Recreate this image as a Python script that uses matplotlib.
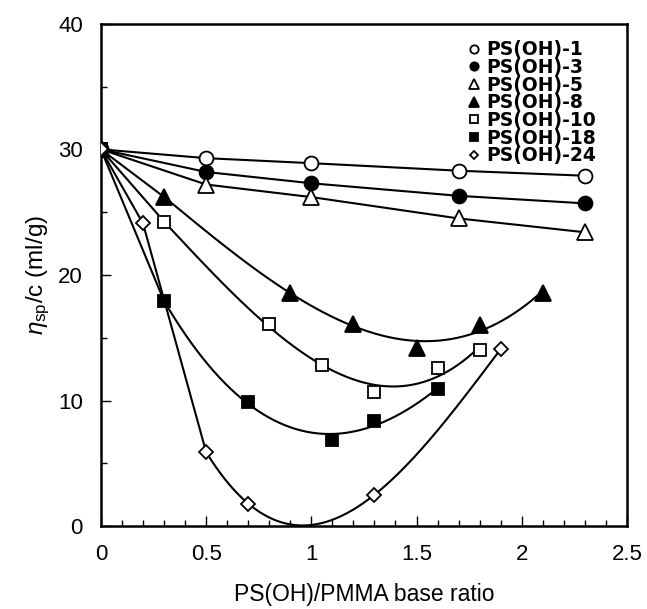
import matplotlib
matplotlib.use("Agg")
import matplotlib.pyplot as plt
import numpy as np

plt.rcParams["font.family"] = ["Liberation Sans", "DejaVu Sans"]
plt.rcParams["mathtext.fontset"] = "custom"
plt.rcParams["mathtext.rm"] = "Liberation Sans"
plt.rcParams["mathtext.it"] = "Liberation Sans:italic"

# intrinsic viscosity data (PS(OH)/PMMA base ratio, eta_sp/c)
x_1 = [0, 0.5, 1.0, 1.7, 2.3]
y_1 = [30, 29.3, 28.9, 28.3, 27.9]
x_3 = [0, 0.5, 1.0, 1.7, 2.3]
y_3 = [30, 28.2, 27.3, 26.3, 25.7]
x_5 = [0, 0.5, 1.0, 1.7, 2.3]
y_5 = [30, 27.2, 26.2, 24.5, 23.4]
x_8 = [0, 0.3, 0.9, 1.2, 1.5, 1.8, 2.1]
y_8 = [30, 26.2, 18.6, 16.1, 14.2, 16.0, 18.6]
x_10 = [0, 0.3, 0.8, 1.05, 1.3, 1.6, 1.8]
y_10 = [30, 24.2, 16.1, 12.8, 10.7, 12.6, 14.0]
x_18 = [0, 0.3, 0.7, 1.1, 1.3, 1.6]
y_18 = [30, 17.9, 9.9, 6.9, 8.4, 10.9]
x_24 = [0, 0.2, 0.5, 0.7, 1.3, 1.9]
y_24 = [30, 24.1, 5.9, 1.8, 2.5, 14.1]

labels = ["PS(OH)-1", "PS(OH)-3", "PS(OH)-5", "PS(OH)-8",
          "PS(OH)-10", "PS(OH)-18", "PS(OH)-24"]


def curve(x, y, k=None):
    """straight segments through the first k points, cubic fit after that"""
    x = np.asarray(x, float); y = np.asarray(y, float)
    if k is None:
        return x, y
    p = np.polyfit(x[k - 1:], y[k - 1:], 3)
    xs = np.linspace(x[k - 1], x[-1], 200)
    ys = np.polyval(p, xs)
    return np.r_[x[:k - 1], xs], np.r_[y[:k - 1], ys]


series = [
    (x_1, y_1, None, dict(marker="o", mfc="white")),
    (x_3, y_3, None, dict(marker="o", mfc="black")),
    (x_5, y_5, None, dict(marker="^", mfc="white", ms=11)),
    (x_8, y_8, 2, dict(marker="^", mfc="black", ms=11)),
    (x_10, y_10, 2, dict(marker="s", mfc="white", ms=8.5)),
    (x_18, y_18, 2, dict(marker="s", mfc="black", ms=8.5)),
    (x_24, y_24, 3, dict(marker="D", mfc="white", ms=7.5)),
]

fig = plt.figure(figsize=(6.47, 6.09), dpi=100)
ax = fig.add_axes([0.156, 0.136, 0.813, 0.825])

for (x, y, k, st), lab in zip(series, labels):
    cx, cy = curve(x, y, k)
    ax.plot(cx, cy, color="black", lw=1.5, zorder=2)
    kw = dict(ms=10, mec="black", mew=1.3, ls="none")
    kw.update(st)
    ax.plot(x, y, label=lab, zorder=3, **kw)

ax.set_xlim(0, 2.5)
ax.set_ylim(0, 40)
ax.set_xticks([0, 0.5, 1, 1.5, 2, 2.5])
ax.set_xticklabels(["0", "0.5", "1", "1.5", "2", "2.5"])
ax.set_yticks([0, 10, 20, 30, 40])
ax.set_xticks(np.arange(0, 2.51, 0.1), minor=True)
ax.set_yticks(np.arange(0, 40.1, 5), minor=True)
ax.tick_params(which="both", direction="in", width=1, labelsize=16)
ax.tick_params(axis="x", which="major", length=7, pad=13)
ax.tick_params(axis="y", which="major", length=7, pad=13)
ax.tick_params(which="minor", length=4)
for s in ax.spines.values():
    s.set_linewidth(1.8)

ax.set_xlabel("PS(OH)/PMMA base ratio", fontsize=16.5, labelpad=13)
ax.set_ylabel(r"$\eta_{\mathrm{sp}}$/c (ml/g)", fontsize=17.5, labelpad=4)

leg = ax.legend(loc="upper right", bbox_to_anchor=(0.955, 0.982), frameon=False,
                markerscale=0.6, handlelength=0.6, handletextpad=0.35,
                labelspacing=-0.07, borderaxespad=0,
                prop=dict(family="DejaVu Sans", weight="bold", size=13.5))

fig.savefig("out.png", dpi=100)
